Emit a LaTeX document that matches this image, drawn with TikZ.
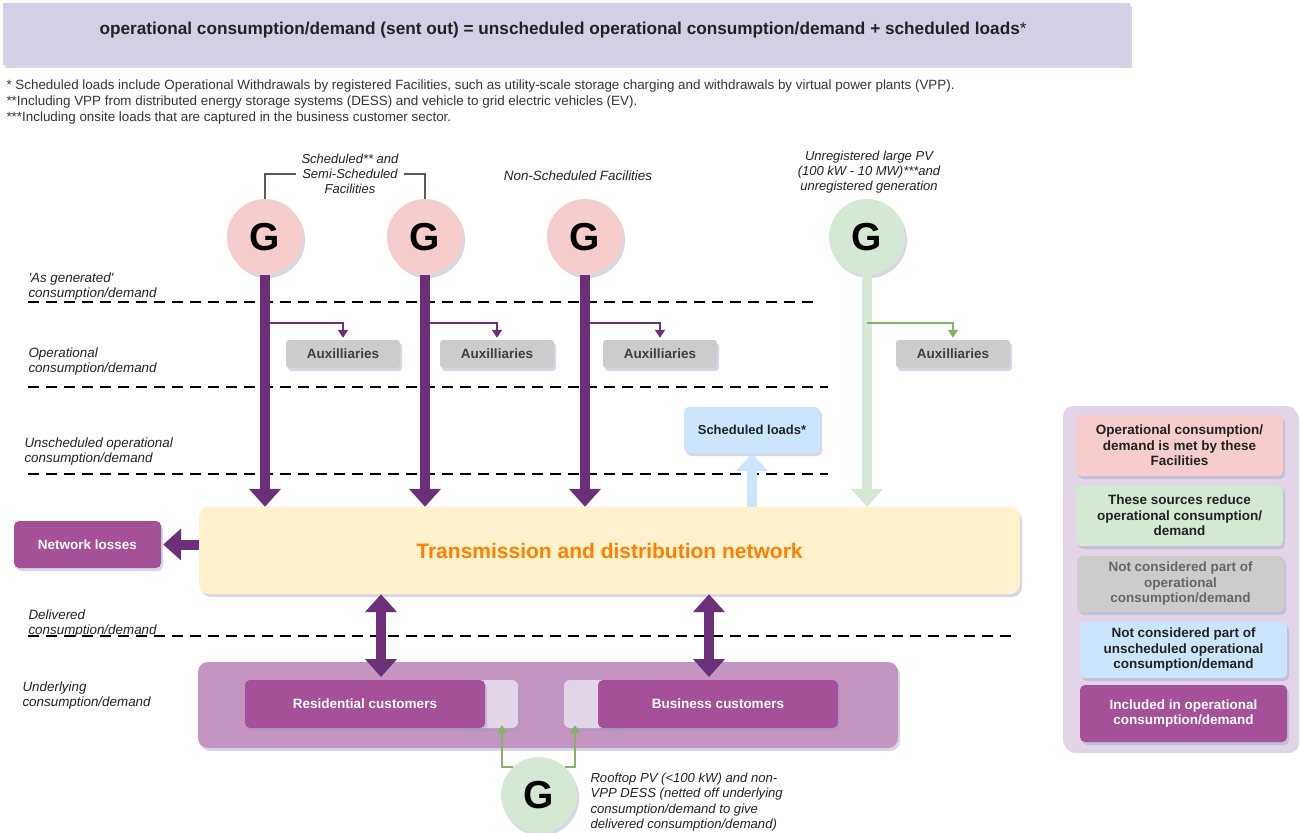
\documentclass[tikz,border=0pt]{standalone}
\usepackage{fontspec}
\setmainfont{Liberation Sans}
\usetikzlibrary{arrows.meta,shadows,calc}
\definecolor{dpurple}{HTML}{6C2F7A}
\definecolor{mpurple}{HTML}{A55098}
\definecolor{upurple}{HTML}{C495C1}
\definecolor{lilac}{HTML}{E1D5E7}
\definecolor{titlebg}{HTML}{D3D0E5}
\definecolor{gpink}{HTML}{F6CCCC}
\definecolor{ggreen}{HTML}{D5E8D4}
\definecolor{gblue}{HTML}{CCE5FF}
\definecolor{ggray}{HTML}{CCCCCC}
\definecolor{gyellow}{HTML}{FFF2CC}
\definecolor{orangetxt}{HTML}{FF8000}
\definecolor{sgreen}{HTML}{82B366}
\definecolor{txt}{HTML}{222222}
\definecolor{shadowc}{HTML}{9A9CC0}
\begin{document}
\begin{tikzpicture}[x=1pt,y=-1pt,
  shad/.style={drop shadow={shadow xshift=2pt,shadow yshift=-3pt,opacity=0.4,fill=shadowc}},
  box/.style={draw=none,rounded corners=5pt,inner sep=2pt,align=center,shad},
  gen/.style={circle,minimum size=76pt,inner sep=0pt,font=\fontsize{39}{40}\selectfont\bfseries,shad},
  lbl/.style={anchor=west,align=left,font=\fontsize{13.4}{15}\selectfont\itshape,text=txt},
  clbl/.style={align=center,font=\fontsize{13}{15}\selectfont\itshape,text=txt},
  auxbox/.style={box,fill=ggray,rounded corners=3pt,minimum width=114pt,minimum height=28pt,font=\fontsize{13.5}{15}\selectfont\bfseries,text=black!75},
  legbox/.style={box,minimum width=207pt,font=\fontsize{13.5}{15.5}\selectfont\bfseries,text=txt},
  dashline/.style={line width=2.7pt,dash pattern=on 11pt off 7pt},
  bigarrow/.style={line width=10pt,draw=dpurple,-{Triangle[width=31pt,length=18pt]}},
  dblarrow/.style={line width=10pt,draw=dpurple,{Triangle[width=31pt,length=18pt]}-{Triangle[width=31pt,length=18pt]}},
  auxarrow/.style={line width=1.8pt,draw=dpurple,-{Triangle[width=10pt,length=8pt]}},
  fn/.style={anchor=west,font=\fontsize{13.4}{14}\selectfont,text=black!80}
]
\useasboundingbox (0,0) rectangle (1300,832);

% title
\node[box,rounded corners=0pt,fill=titlebg,minimum width=1127pt,minimum height=62pt] (titlebox) at (566.5,34) {};
\node[font=\fontsize{17.2}{18}\selectfont\bfseries,text=txt] (title) at (563,30) {operational consumption/demand (sent out) = unscheduled operational consumption/demand + scheduled loads\textmd{*}};

% footnotes
\node[fn] (fn1) at (3,86) {* Scheduled loads include Operational Withdrawals by registered Facilities, such as utility-scale storage charging and withdrawals by virtual power plants (VPP).};
\node[fn] (fn2) at (3,102) {**Including VPP from distributed energy storage systems (DESS) and vehicle to grid electric vehicles (EV).};
\node[fn] (fn3) at (3,118) {***Including onsite loads that are captured in the business customer sector.};

% dashed lines
\draw[dashline] (28,302) -- (818,302);
\draw[dashline] (28,387) -- (828,387);
\draw[dashline] (28,474) -- (828,474);
\draw[dashline] (28,636) -- (1018,636);

% left labels
\node[lbl] (l1) at (25,287) {\textquotesingle As generated\textquotesingle\\consumption/demand};
\node[lbl] (l2) at (25,361.5) {Operational\\consumption/demand};
\node[lbl] (l3) at (21,451.5) {Unscheduled operational\\consumption/demand};
\node[lbl] (l4) at (25,624) {Delivered\\consumption/demand};
\node[lbl] (l5) at (19,695.5) {Underlying\\consumption/demand};

% generators
\node[gen,fill=gpink] (g1) at (265,237) {G};
\node[gen,fill=gpink] (g2) at (425,237) {G};
\node[gen,fill=gpink] (g3) at (585,237) {G};
\node[gen,fill=ggreen] (g4) at (867,237) {G};

% generator labels
\node[clbl] (sched) at (350,174) {Scheduled** and\\Semi-Scheduled\\Facilities};
\node[clbl,font=\fontsize{13.4}{15}\selectfont\itshape] (nonsched) at (578,176) {Non-Scheduled Facilities};
\node[clbl] (unreg) at (869,172) {Unregistered large PV\\(100 kW - 10 MW)***and\\unregistered generation};
\draw[line width=1.3pt,draw=black!65] (g1.north) |- ([xshift=-2pt]sched.west);
\draw[line width=1.3pt,draw=black!65] (g2.north) |- ([xshift=2pt]sched.east);

% network
\node[box,fill=gyellow,rounded corners=10pt,minimum width=821pt,minimum height=87pt,font=\fontsize{21}{22}\selectfont\bfseries,text=orangetxt] (td) at (609.5,550.5) {Transmission and distribution network};
\node[box,fill=mpurple,minimum width=147pt,minimum height=47pt,font=\fontsize{13.5}{15}\selectfont\bfseries,text=white] (nl) at (87.5,544.5) {Network losses};
\node[box,fill=gblue,minimum width=136pt,minimum height=46pt,font=\fontsize{13}{15}\selectfont\bfseries,text=txt] (sl) at (752,430) {Scheduled loads*};

% auxiliaries
\node[auxbox] (a1) at (343,354) {Auxilliaries};
\node[auxbox] (a2) at (497,354) {Auxilliaries};
\node[auxbox] (a3) at (660,354) {Auxilliaries};
\node[auxbox] (a4) at (953,354) {Auxilliaries};

% main flows
\draw[bigarrow] (g1.south) -- (g1.south |- td.north);
\draw[bigarrow] (g2.south) -- (g2.south |- td.north);
\draw[bigarrow] (g3.south) -- (g3.south |- td.north);
\draw[bigarrow,draw=ggreen] (g4.south) -- (g4.south |- td.north);
\draw[bigarrow,draw=gblue] (sl.south |- td.north) -- (sl.south);
\draw[bigarrow] (td.west |- nl.east) -- ([xshift=2pt]nl.east);

% auxiliary branches
\draw[auxarrow] (g1.south |- 0,323) -| ([yshift=2pt]a1.north);
\draw[auxarrow] (g2.south |- 0,323) -| ([yshift=2pt]a2.north);
\draw[auxarrow] (g3.south |- 0,323) -| ([yshift=2pt]a3.north);
\draw[auxarrow,draw=sgreen] (g4.south |- 0,323) -| ([yshift=2pt]a4.north);

% customers
\node[box,fill=upurple,rounded corners=10pt,minimum width=700pt,minimum height=86pt,drop shadow={opacity=0}] (under) at (548,705) {};
\node[box,fill=lilac,rounded corners=6pt,minimum width=63pt,minimum height=48pt,drop shadow={opacity=0}] (rl) at (486.5,704) {};
\node[box,fill=lilac,rounded corners=6pt,minimum width=56pt,minimum height=48pt,drop shadow={opacity=0}] (bl) at (592,704) {};
\node[box,fill=mpurple,minimum width=240pt,minimum height=48pt,font=\fontsize{13.5}{15}\selectfont\bfseries,text=white,drop shadow={opacity=0}] (res) at (365,704) {Residential customers};
\node[box,fill=mpurple,minimum width=240pt,minimum height=48pt,font=\fontsize{13.5}{15}\selectfont\bfseries,text=white,drop shadow={opacity=0}] (bus) at (718,704) {Business customers};
\coordinate (r1) at (381,677);
\coordinate (b1) at (709,677);
\draw[dblarrow] (td.south -| r1) -- (r1);
\draw[dblarrow] (td.south -| b1) -- (b1);

% rooftop
\node[gen,fill=ggreen] (gr) at (539,795) {G};
\draw[auxarrow,draw=sgreen] (gr.133) -| ([yshift=3pt]rl.south -| 502,0);
\draw[auxarrow,draw=sgreen] (gr.47) -| ([yshift=3pt]bl.south -| 575,0);
\node[lbl,font=\fontsize{13.1}{15.5}\selectfont\itshape] (roof) at (587,802) {Rooftop PV (<100 kW) and non-\\VPP DESS (netted off underlying\\consumption/demand to give\\delivered consumption/demand)};

% legend
\node[box,fill=lilac,rounded corners=10pt,minimum width=234pt,minimum height=344pt] (leg) at (1180,578) {};
\node[legbox,fill=gpink,minimum height=61pt,drop shadow={opacity=0}] (k1) at (1179.5,445.5) {Operational consumption/\\demand is met by these\\Facilities};
\node[legbox,fill=ggreen,minimum height=61pt,drop shadow={opacity=0}] (k2) at (1179.5,515.5) {These sources reduce\\operational consumption/\\demand};
\node[legbox,fill=ggray,minimum height=56pt,text=black!60,drop shadow={opacity=0}] (k3) at (1180.5,584) {Not considered part of\\operational\\consumption/demand};
\node[legbox,fill=gblue,minimum height=56pt,drop shadow={opacity=0}] (k4) at (1183.5,650) {Not considered part of\\unscheduled operational\\consumption/demand};
\node[legbox,fill=mpurple,minimum height=57pt,text=white,drop shadow={opacity=0}] (k5) at (1183.5,713.5) {Included in operational\\consumption/demand};
\end{tikzpicture}
\end{document}
